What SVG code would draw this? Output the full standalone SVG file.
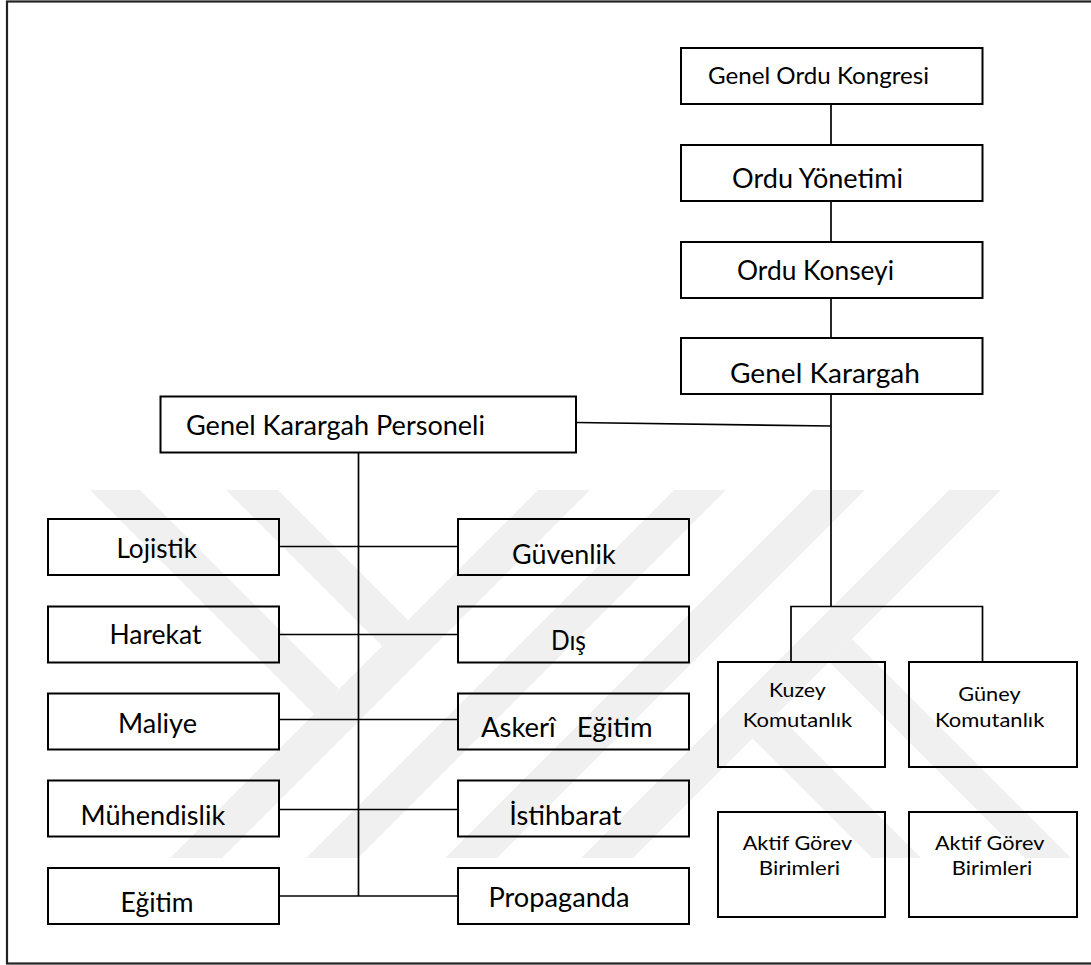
<svg xmlns="http://www.w3.org/2000/svg" width="1091" height="965" viewBox="0 0 1091 965">
<style>
.box{fill:none;stroke:#000;stroke-width:2}
.ln{fill:none;stroke:#000;stroke-width:1.7}
.t{font-family:Lato,'Open Sans','DejaVu Sans',sans-serif;font-size:26px;fill:#000}
.m{font-size:24px}
.s{font-size:20px}
.wm{fill:#f0f0f0}
.frame{fill:none;stroke:#222;stroke-width:2.2}
</style>
<rect x="0" y="0" width="1091" height="965" fill="#fff"/>
<g id="watermark">
<polygon class="wm" points="538,490 590,490 222,858 170,858"/>
<polygon class="wm" points="674,490 726,490 358,858 306,858"/>
<polygon class="wm" points="90,490 140,490 339,689 314,714"/>
<polygon class="wm" points="226,490 278,490 408,620 382,646"/>
<polygon class="wm" points="813,490 865,490 497,858 445,858"/>
<polygon class="wm" points="949,490 1001,490 633,858 581,858"/>
<polygon class="wm" points="777,714 921,858 872,858 752,738"/>
<polygon class="wm" points="852,639 1071,858 1025,858 829,662"/>
</g>
<rect class="frame" x="7" y="1.5" width="1095" height="962"/>
<g id="connectors">
<line class="ln" x1="831" y1="104" x2="831" y2="145"/>
<line class="ln" x1="831" y1="201" x2="831" y2="242"/>
<line class="ln" x1="831" y1="298" x2="831" y2="338"/>
<line class="ln" x1="831" y1="394" x2="831" y2="606.5"/>
<line class="ln" x1="576" y1="422.5" x2="831" y2="426"/>
<polyline class="ln" points="791,662 791,606.5 982.5,606.5 982.5,662"/>
<line class="ln" x1="358.5" y1="452" x2="358.5" y2="896"/>
<line class="ln" x1="279" y1="546.5" x2="458" y2="546.5"/>
<line class="ln" x1="279" y1="634.5" x2="458" y2="634.5"/>
<line class="ln" x1="279" y1="719.5" x2="458" y2="719.5"/>
<line class="ln" x1="279" y1="809.5" x2="458" y2="809.5"/>
<line class="ln" x1="279" y1="896" x2="458" y2="896"/>
</g>
<g id="n-genel-ordu-kongresi">
<rect class="box" x="681" y="48" width="301.5" height="56"/>
<text class="t m" x="708" y="83.5" textLength="221" lengthAdjust="spacingAndGlyphs">Genel Ordu Kongresi</text>
</g>
<g id="n-ordu-yonetimi">
<rect class="box" x="681" y="145" width="301.5" height="56"/>
<text class="t" x="732" y="188" textLength="171" lengthAdjust="spacingAndGlyphs">Ordu Yönetimi</text>
</g>
<g id="n-ordu-konseyi">
<rect class="box" x="681" y="242" width="301.5" height="56"/>
<text class="t" x="737" y="280" textLength="157" lengthAdjust="spacingAndGlyphs">Ordu Konseyi</text>
</g>
<g id="n-genel-karargah">
<rect class="box" x="681" y="338" width="301.5" height="56"/>
<text class="t" x="730" y="383" textLength="190" lengthAdjust="spacingAndGlyphs">Genel Karargah</text>
</g>
<g id="n-genel-karargah-personeli">
<rect class="box" x="160.5" y="396.5" width="415.5" height="56"/>
<text class="t" x="186" y="435" textLength="299" lengthAdjust="spacingAndGlyphs">Genel Karargah Personeli</text>
</g>
<g id="n-lojistik">
<rect class="box" x="48" y="519" width="231" height="56"/>
<text class="t" x="116.4" y="557.5" textLength="80.6" lengthAdjust="spacingAndGlyphs">Lojistik</text>
</g>
<g id="n-harekat">
<rect class="box" x="48" y="606.5" width="231" height="56"/>
<text class="t" x="109.5" y="644" textLength="92" lengthAdjust="spacingAndGlyphs">Harekat</text>
</g>
<g id="n-maliye">
<rect class="box" x="48" y="693.5" width="231" height="56"/>
<text class="t" x="118" y="733" textLength="79" lengthAdjust="spacingAndGlyphs">Maliye</text>
</g>
<g id="n-muhendislik">
<rect class="box" x="48" y="780.5" width="231" height="56"/>
<text class="t" x="80.6" y="825" textLength="144.6" lengthAdjust="spacingAndGlyphs">Mühendislik</text>
</g>
<g id="n-egitim">
<rect class="box" x="48" y="868" width="231" height="56"/>
<text class="t" x="120.6" y="912" textLength="73" lengthAdjust="spacingAndGlyphs">Eğitim</text>
</g>
<g id="n-guvenlik">
<rect class="box" x="458" y="519" width="231" height="56"/>
<text class="t" x="512" y="563.7" textLength="103.7" lengthAdjust="spacingAndGlyphs">Güvenlik</text>
</g>
<g id="n-dis">
<rect class="box" x="458" y="606.5" width="231" height="56"/>
<text class="t" x="551" y="649.5" textLength="35" lengthAdjust="spacingAndGlyphs">Dış</text>
</g>
<g id="n-askeri-egitim">
<rect class="box" x="458" y="693.5" width="231" height="56"/>
<text class="t" x="481" y="737" textLength="171.5" lengthAdjust="spacingAndGlyphs" style="white-space:pre">Askerî   Eğitim</text>
</g>
<g id="n-istihbarat">
<rect class="box" x="458" y="780.5" width="231" height="56"/>
<text class="t" x="509.2" y="825" textLength="112.4" lengthAdjust="spacingAndGlyphs">İstihbarat</text>
</g>
<g id="n-propaganda">
<rect class="box" x="458" y="868" width="231" height="56"/>
<text class="t" x="488.4" y="907" textLength="141.2" lengthAdjust="spacingAndGlyphs">Propaganda</text>
</g>
<g id="n-kuzey-komutanlik">
<rect class="box" x="718" y="662" width="167" height="105"/>
<text class="t s" x="769" y="696.5" textLength="56.7" lengthAdjust="spacingAndGlyphs">Kuzey</text>
<text class="t s" x="742.7" y="726.8" textLength="109.5" lengthAdjust="spacingAndGlyphs">Komutanlık</text>
</g>
<g id="n-guney-komutanlik">
<rect class="box" x="909" y="662" width="168" height="105"/>
<text class="t s" x="958.3" y="700.5" textLength="62.3" lengthAdjust="spacingAndGlyphs">Güney</text>
<text class="t s" x="935" y="726.8" textLength="109.3" lengthAdjust="spacingAndGlyphs">Komutanlık</text>
</g>
<g id="n-aktif-gorev-birimleri-1">
<rect class="box" x="718" y="812" width="167" height="105"/>
<text class="t s" x="742.7" y="850" textLength="109.5" lengthAdjust="spacingAndGlyphs">Aktif Görev</text>
<text class="t s" x="758.8" y="875" textLength="81.3" lengthAdjust="spacingAndGlyphs">Birimleri</text>
</g>
<g id="n-aktif-gorev-birimleri-2">
<rect class="box" x="909" y="812" width="168" height="105"/>
<text class="t s" x="935" y="850" textLength="109.3" lengthAdjust="spacingAndGlyphs">Aktif Görev</text>
<text class="t s" x="951.7" y="875" textLength="80.5" lengthAdjust="spacingAndGlyphs">Birimleri</text>
</g>
</svg>
